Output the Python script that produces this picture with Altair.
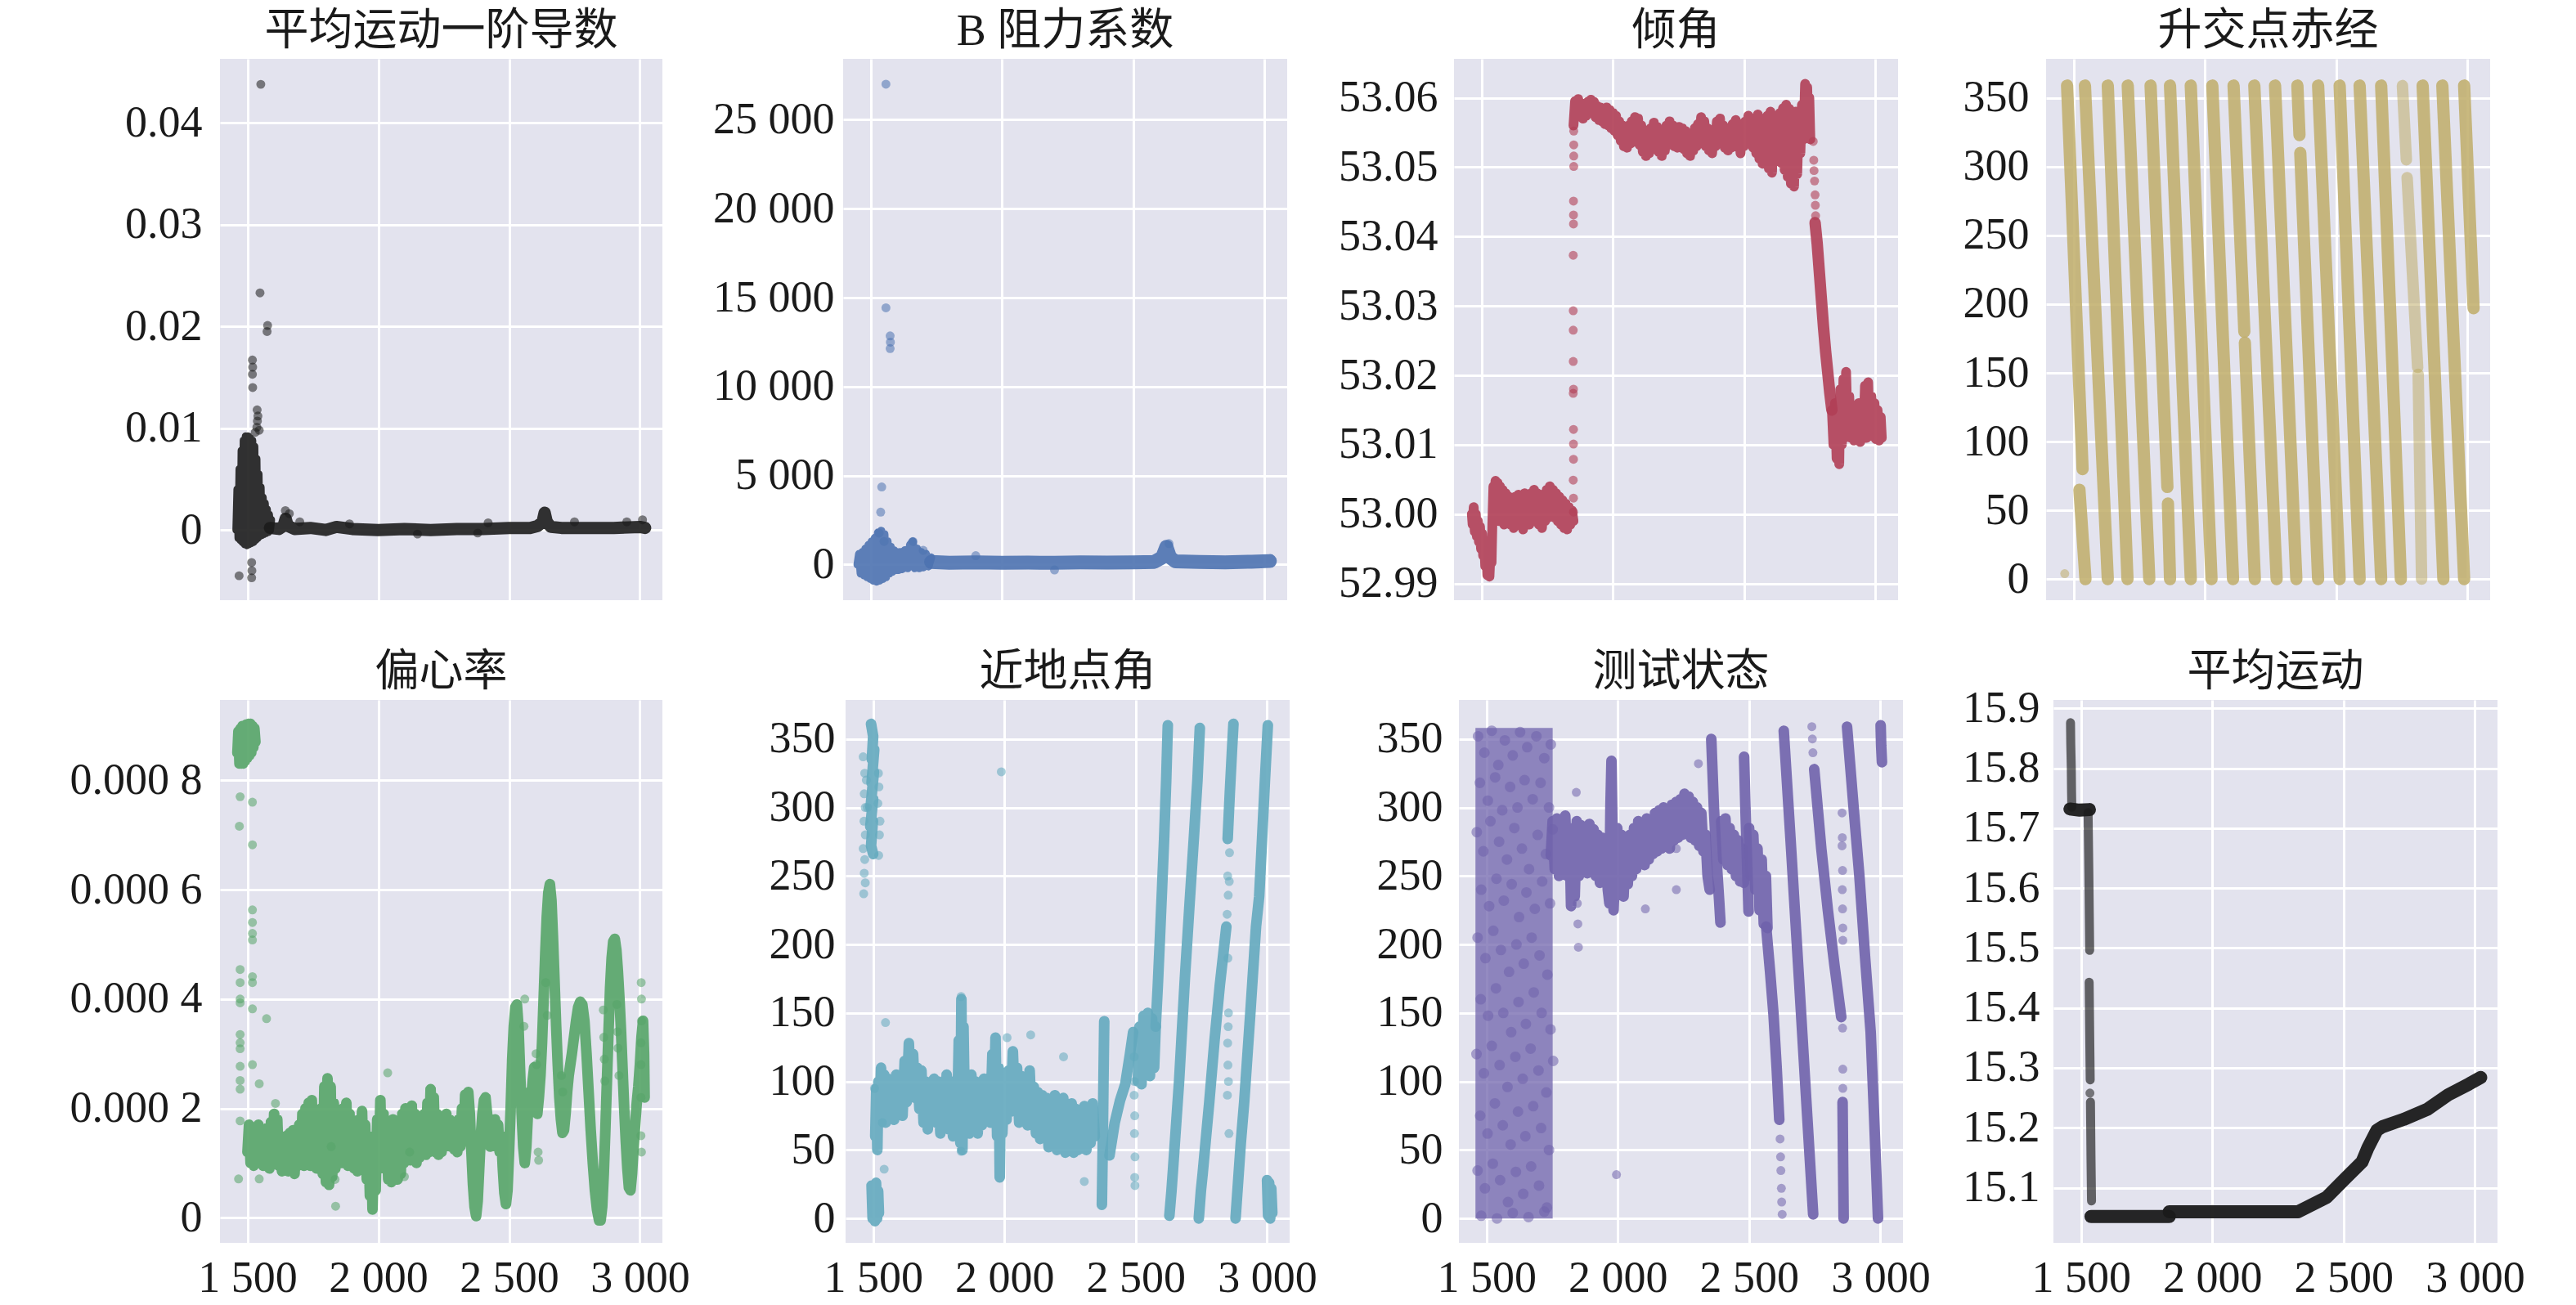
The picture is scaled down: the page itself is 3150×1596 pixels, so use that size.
import altair as alt
import pandas as pd

SERIF = "Liberation Serif"
TITLE_FONT = "Liberation Serif, Noto Sans CJK SC"
BG = "#E3E3EE"
TXT = "#1a1a1a"

X_DOMAIN = [1395, 3086]
X_TICKS = [1500, 2000, 2500, 3000]

TITLES = ["平均运动一阶导数", "B 阻力系数", "倾角", "升交点赤经",
          "偏心率", "近地点角", "测试状态", "平均运动"]
COLORS = ["#1c1c1c", "#4C72B0", "#B03E55", "#BFAD69",
          "#55A467", "#63A9BE", "#6F62AB", "#1a1a1a"]
Y_DOMAINS = [[-0.0069, 0.0463], [-2000, 28420], [52.9876, 53.0656], [-15.3, 378.4],
             [-0.000046, 0.000947], [-17.8, 378.5], [-17.8, 378.5], [15.008, 15.914]]
Y_TICKS = [[0, 0.01, 0.02, 0.03, 0.04],
           [0, 5000, 10000, 15000, 20000, 25000],
           [52.99, 53.0, 53.01, 53.02, 53.03, 53.04, 53.05, 53.06],
           [0, 50, 100, 150, 200, 250, 300, 350],
           [0, 0.0002, 0.0004, 0.0006, 0.0008],
           [0, 50, 100, 150, 200, 250, 300, 350],
           [0, 50, 100, 150, 200, 250, 300, 350],
           [15.1, 15.2, 15.3, 15.4, 15.5, 15.6, 15.7, 15.8, 15.9]]
Y_LABEL_EXPR = [
    "datum.value == 0 ? '0' : format(datum.value, '.2f')",
    "replace(format(datum.value, ','), ',', ' ')",
    "format(datum.value, '.2f')",
    "format(datum.value, 'd')",
    "datum.value == 0 ? '0' : '0.000 ' + format(datum.value * 10000, '.0f')",
    "format(datum.value, 'd')",
    "format(datum.value, 'd')",
    "format(datum.value, '.1f')",
]
X_LABEL_EXPR = "replace(format(datum.value, ','), ',', ' ')"

# ---------------- data: 平均运动一阶导数 ----------------
P1_SPIKE = [(1458, 0.0), (1462, 0.004), (1466, -0.0008), (1470, 0.006), (1474, -0.001),
            (1478, 0.0078), (1482, -0.0012), (1486, 0.0088), (1490, -0.0014), (1494, 0.0092),
            (1498, -0.0015), (1502, 0.0092), (1506, -0.0014), (1510, 0.009), (1514, -0.0013),
            (1518, 0.0088), (1522, -0.0012), (1526, 0.0082), (1530, -0.001), (1534, 0.007),
            (1538, -0.0008), (1542, 0.0055), (1546, -0.0006), (1550, 0.0042), (1554, -0.0005),
            (1558, 0.0032), (1562, -0.0004), (1566, 0.0026), (1570, -0.0003), (1574, 0.002),
            (1578, -0.0002), (1582, 0.0015), (1586, 0.0), (1590, 0.001)]
P1_BAND = [(1586, 0.0002), (1620, 0.0001), (1638, 0.0004), (1646, 0.0011), (1654, 0.0004),
           (1680, 0.0001), (1740, 0.0002), (1800, 0.0), (1840, 0.0003), (1900, 0.0001),
           (2000, 0.0), (2100, 0.0001), (2200, 0.0), (2300, 0.0001), (2400, 0.0001),
           (2500, 0.0002), (2580, 0.0002), (2610, 0.0004), (2628, 0.0008), (2636, 0.0017),
           (2644, 0.0008), (2660, 0.0003), (2700, 0.0002), (2800, 0.0002), (2900, 0.0002),
           (3000, 0.0003), (3020, 0.0002)]
P1_POINTS = [(1551, 0.0438), (1548, 0.0233), (1577, 0.0201), (1575, 0.0195), (1519, 0.0167),
             (1520, 0.0160), (1519, 0.0153), (1537, 0.0118), (1540, 0.0112), (1538, 0.0107),
             (1536, 0.0101), (1468, -0.0045), (1516, -0.0032), (1517, -0.0040), (1516, -0.0047),
             (1520, 0.0140), (1530, 0.0096), (1545, 0.0098), (1700, 0.0008), (1890, 0.0006),
             (2150, -0.0004), (2420, 0.0007), (2750, 0.0008), (2950, 0.0008), (3010, 0.0010),
             (2380, -0.0003), (1660, 0.0016), (1645, 0.0019)]

# ---------------- data: B 阻力系数 ----------------
P2_SPIKE = [(1450, 0), (1456, 600), (1462, -500), (1468, 700), (1474, -600), (1480, 900),
            (1486, -700), (1492, 1100), (1498, -800), (1504, 1300), (1510, -900), (1516, 1500),
            (1522, -950), (1528, 1800), (1534, -900), (1540, 1900), (1546, -800), (1552, 1700),
            (1558, -700), (1564, 1300), (1570, -500), (1576, 1000), (1582, -400), (1588, 800),
            (1594, -300), (1600, 700), (1606, -300), (1612, 700), (1620, -250), (1630, 800),
            (1640, -200), (1650, 1100), (1660, 1300), (1668, -200), (1676, 900), (1684, -200),
            (1692, 700), (1700, -150), (1710, 600), (1720, -100), (1730, 400)]
P2_BAND = [(1730, 150), (1800, 100), (1900, 120), (2000, 100), (2100, 110), (2200, 100),
           (2300, 120), (2400, 110), (2500, 130), (2580, 150), (2610, 400), (2626, 1000),
           (2640, 400), (2660, 180), (2750, 150), (2850, 130), (2950, 160), (3020, 200)]
P2_POINTS = [(1558, 27000), (1558, 14430), (1574, 12850), (1575, 12500), (1574, 12140),
             (1542, 4360), (1538, 2950), (1532, 1770), (1551, 1300), (1661, 1300),
             (1700, 800), (1900, 500), (2200, -300), (2636, 1180)]

# ---------------- data: 倾角 ----------------
P3_LOW = [(1463, 53.0000), (1466, 52.9985), (1470, 53.0010), (1474, 52.9975), (1478, 53.0000),
          (1482, 52.9968), (1486, 52.9990), (1490, 52.9960), (1494, 52.9982), (1498, 52.9950),
          (1502, 52.9972), (1506, 52.9940), (1510, 52.9962), (1514, 52.9925), (1518, 52.9950),
          (1522, 52.9912), (1526, 52.9940), (1530, 52.9910), (1534, 52.9945), (1538, 52.9930),
          (1541, 52.9985), (1545, 53.0040), (1549, 52.9990), (1553, 53.0048), (1557, 52.9995),
          (1561, 53.0045), (1565, 52.9990), (1570, 53.0040), (1575, 52.9995), (1580, 53.0035),
          (1586, 52.9985), (1592, 53.0030), (1598, 52.9990), (1604, 53.0025), (1610, 52.9985),
          (1616, 53.0020), (1622, 52.9980), (1628, 53.0025), (1634, 52.9990), (1640, 53.0028),
          (1646, 52.9985), (1652, 53.0022), (1658, 52.9978), (1664, 53.0030), (1670, 52.9990),
          (1676, 53.0025), (1682, 52.9985), (1688, 53.0030), (1694, 52.9990), (1700, 53.0035),
          (1706, 52.9995), (1712, 53.0030), (1718, 52.9985), (1724, 53.0028), (1730, 52.9980),
          (1736, 53.0025), (1742, 52.9990), (1748, 53.0035), (1754, 52.9995), (1760, 53.0040),
          (1766, 53.0000), (1772, 53.0035), (1778, 52.9995), (1784, 53.0030), (1790, 52.9990),
          (1796, 53.0025), (1802, 52.9985), (1808, 53.0020), (1814, 52.9980), (1820, 53.0015),
          (1826, 52.9978), (1832, 53.0010), (1838, 52.9985), (1844, 53.0005), (1850, 52.9990)]
P3_JUMP = [(1850, 53.0003), (1850, 53.0023), (1849, 53.0049), (1850, 53.0079), (1850, 53.0101),
           (1850, 53.0122), (1849, 53.0174), (1850, 53.0180), (1849, 53.0220), (1849, 53.0265),
           (1849, 53.0293), (1849, 53.0373), (1850, 53.0418), (1850, 53.0431), (1850, 53.0451),
           (1851, 53.0501), (1851, 53.0516), (1851, 53.0532), (1851, 53.0552),
           (2763, 53.0537), (2765, 53.0510), (2766, 53.0495), (2768, 53.0480), (2770, 53.0460),
           (2771, 53.0445), (2772, 53.0430)]
P3_HIGH = [(1850, 53.0560), (1856, 53.0595), (1862, 53.0575), (1868, 53.0598), (1874, 53.0578),
           (1880, 53.0592), (1886, 53.0570), (1892, 53.0590), (1898, 53.0574), (1904, 53.0594),
           (1910, 53.0578), (1916, 53.0597), (1922, 53.0580), (1928, 53.0594), (1934, 53.0572),
           (1940, 53.0588), (1946, 53.0568), (1952, 53.0586), (1958, 53.0566), (1964, 53.0584),
           (1970, 53.0562), (1976, 53.0586), (1982, 53.0560), (1988, 53.0582), (1994, 53.0556),
           (2000, 53.0578), (2006, 53.0552), (2012, 53.0574), (2018, 53.0546), (2024, 53.0566),
           (2030, 53.0538), (2036, 53.0560), (2042, 53.0530), (2048, 53.0556), (2054, 53.0528),
           (2060, 53.0560), (2066, 53.0534), (2072, 53.0566), (2078, 53.0538), (2084, 53.0572),
           (2090, 53.0536), (2096, 53.0570), (2102, 53.0532), (2108, 53.0560), (2114, 53.0522),
           (2120, 53.0552), (2126, 53.0516), (2132, 53.0546), (2138, 53.0520), (2144, 53.0556),
           (2150, 53.0528), (2156, 53.0564), (2162, 53.0530), (2168, 53.0558), (2174, 53.0522),
           (2180, 53.0550), (2186, 53.0516), (2192, 53.0548), (2198, 53.0524), (2204, 53.0560),
           (2210, 53.0532), (2216, 53.0566), (2222, 53.0534), (2228, 53.0560), (2234, 53.0530),
           (2240, 53.0556), (2246, 53.0528), (2252, 53.0558), (2258, 53.0530), (2264, 53.0556),
           (2270, 53.0526), (2276, 53.0552), (2282, 53.0520), (2288, 53.0548), (2294, 53.0516),
           (2300, 53.0546), (2306, 53.0524), (2312, 53.0556), (2318, 53.0530), (2324, 53.0562),
           (2330, 53.0534), (2336, 53.0572), (2342, 53.0536), (2348, 53.0566), (2354, 53.0530),
           (2360, 53.0556), (2366, 53.0524), (2372, 53.0548), (2378, 53.0520), (2384, 53.0554),
           (2390, 53.0530), (2396, 53.0566), (2402, 53.0536), (2408, 53.0570), (2414, 53.0534),
           (2420, 53.0560), (2426, 53.0528), (2432, 53.0552), (2438, 53.0524), (2444, 53.0556),
           (2450, 53.0528), (2456, 53.0562), (2462, 53.0530), (2468, 53.0568), (2474, 53.0532),
           (2480, 53.0560), (2486, 53.0520), (2492, 53.0556), (2498, 53.0530), (2504, 53.0566),
           (2510, 53.0534), (2516, 53.0574), (2522, 53.0536), (2528, 53.0566), (2534, 53.0528),
           (2540, 53.0570), (2546, 53.0520), (2552, 53.0576), (2558, 53.0512), (2564, 53.0566),
           (2570, 53.0505), (2576, 53.0560), (2582, 53.0520), (2588, 53.0574), (2594, 53.0498),
           (2600, 53.0580), (2606, 53.0492), (2612, 53.0570), (2618, 53.0510), (2624, 53.0566),
           (2630, 53.0516), (2636, 53.0578), (2642, 53.0506), (2648, 53.0585), (2654, 53.0496),
           (2660, 53.0590), (2666, 53.0486), (2672, 53.0584), (2678, 53.0476), (2684, 53.0574),
           (2690, 53.0472), (2696, 53.0580), (2702, 53.0490), (2708, 53.0574), (2714, 53.0520),
           (2720, 53.0590), (2726, 53.0540), (2732, 53.0620), (2736, 53.0560), (2740, 53.0615),
           (2744, 53.0560), (2748, 53.0600), (2752, 53.0540)]
P3_DROP = [(2770, 53.0420), (2778, 53.0390), (2786, 53.0350), (2794, 53.0310), (2802, 53.0270),
           (2810, 53.0235), (2818, 53.0205), (2826, 53.0175), (2834, 53.0150)]
P3_END = [(2834, 53.0150), (2840, 53.0100), (2846, 53.0160), (2852, 53.0080), (2858, 53.0150),
          (2862, 53.0072), (2866, 53.0180), (2872, 53.0100), (2878, 53.0195), (2884, 53.0110),
          (2888, 53.0205), (2894, 53.0120), (2900, 53.0170), (2906, 53.0110), (2912, 53.0150),
          (2918, 53.0106), (2924, 53.0140), (2930, 53.0110), (2936, 53.0160), (2942, 53.0104),
          (2948, 53.0150), (2954, 53.0112), (2960, 53.0185), (2966, 53.0110), (2972, 53.0190),
          (2978, 53.0115), (2984, 53.0170), (2990, 53.0112), (2996, 53.0160), (3002, 53.0108),
          (3008, 53.0150), (3014, 53.0106), (3020, 53.0140), (3024, 53.0110)]

# ---------------- data: 升交点赤经 ----------------
# each stripe: (x at top, y at top, x at bottom, y at bottom)
P4_STRIPES = [(1475, 359, 1534, 80), (1522, 65, 1545, 0), (1543, 359, 1630, 0),
              (1630, 359, 1705, 0), (1706, 359, 1788, 0), (1793, 359, 1857, 67),
              (1859, 55, 1867, 0), (1867, 359, 1946, 0), (1946, 359, 2025, 0),
              (2028, 359, 2107, 0), (2109, 359, 2150, 180), (2152, 172, 2190, 0),
              (2188, 359, 2273, 0), (2267, 359, 2348, 0), (2352, 359, 2360, 323),
              (2363, 310, 2431, 0), (2431, 359, 2513, 0), (2513, 359, 2589, 0),
              (2589, 359, 2671, 0), (2671, 359, 2746, 0), (2829, 359, 2908, 0),
              (2904, 359, 2987, 0), (2987, 359, 3023, 197)]
P4_FAINT = [(2752, 359, 2767, 305), (2770, 292, 2810, 154), (2812, 149, 2825, 0)]
P4_POINTS = [(1466, 4)]

# ---------------- data: 偏心率 (units of 1e-4) ----------------
P5_TOP = [(1460, 8.5), (1464, 8.9), (1468, 8.3), (1472, 8.95), (1476, 8.3), (1480, 9.0),
          (1484, 8.3), (1488, 9.0), (1492, 8.35), (1496, 9.03), (1500, 8.4), (1504, 9.04),
          (1508, 8.45), (1512, 9.04), (1516, 8.5), (1520, 9.0), (1524, 8.6), (1528, 8.95),
          (1532, 8.7)]
P5_MAIN = [(1500, 1.2), (1506, 1.7), (1512, 1.0), (1518, 1.6), (1524, 0.95), (1530, 1.55),
           (1536, 1.05), (1542, 1.7), (1548, 1.0), (1554, 1.6), (1560, 0.95), (1566, 1.5),
           (1572, 1.0), (1578, 1.65), (1584, 0.9), (1590, 1.75), (1596, 1.05), (1602, 1.9),
           (1608, 1.1), (1614, 1.8), (1620, 0.95), (1626, 1.5), (1632, 0.85), (1638, 1.45),
           (1644, 0.9), (1650, 1.5), (1656, 0.85), (1662, 1.55), (1668, 0.9), (1674, 1.6),
           (1680, 0.8), (1686, 1.5), (1692, 0.95), (1698, 1.7), (1704, 1.0), (1710, 1.9),
           (1716, 0.95), (1722, 2.0), (1728, 1.0), (1734, 2.1), (1740, 0.95), (1746, 2.15),
           (1752, 1.1), (1758, 1.8), (1764, 0.9), (1770, 1.6), (1776, 1.0), (1782, 2.0),
           (1788, 0.8), (1794, 2.4), (1800, 0.65), (1806, 2.55), (1812, 0.6), (1818, 2.4),
           (1824, 0.75), (1830, 2.1), (1836, 0.9), (1842, 1.8), (1848, 1.1), (1854, 1.9),
           (1860, 1.0), (1866, 2.0), (1872, 1.05), (1878, 2.1), (1884, 0.95), (1890, 1.9),
           (1896, 1.0), (1902, 1.7), (1908, 0.9), (1914, 1.5), (1920, 0.85), (1926, 1.8),
           (1932, 1.0), (1938, 1.95), (1944, 0.9), (1950, 1.7), (1956, 0.7), (1962, 1.5),
           (1968, 0.4), (1974, 1.2), (1978, 0.15), (1984, 1.4), (1990, 0.5), (1996, 1.8),
           (2002, 0.9), (2008, 2.15), (2014, 1.0), (2020, 1.9), (2026, 0.9), (2032, 1.7),
           (2038, 0.7), (2044, 1.6), (2050, 0.65), (2056, 1.8), (2062, 0.8), (2068, 1.7),
           (2074, 0.7), (2080, 1.6), (2086, 0.8), (2092, 1.9), (2098, 1.0), (2104, 2.0),
           (2110, 1.1), (2116, 1.8), (2122, 1.05), (2128, 2.05), (2134, 1.1), (2140, 1.9),
           (2146, 1.0), (2152, 1.7), (2158, 1.1), (2164, 1.8), (2170, 1.2), (2176, 1.9),
           (2182, 1.15), (2188, 2.1), (2194, 1.2), (2200, 2.35), (2206, 1.25), (2212, 2.2),
           (2218, 1.2), (2224, 1.9), (2230, 1.15), (2236, 1.7), (2242, 1.2), (2248, 1.8),
           (2254, 1.3), (2260, 1.9), (2266, 1.35), (2272, 1.8), (2278, 1.3), (2284, 1.7),
           (2290, 1.25), (2296, 1.6), (2302, 1.2), (2308, 1.8), (2314, 1.3), (2320, 2.0),
           (2326, 1.4), (2332, 2.25), (2338, 1.5), (2344, 2.3), (2350, 1.9), (2356, 1.2),
           (2362, 0.6), (2368, 0.2), (2374, 0.03), (2380, 0.3), (2386, 0.9), (2392, 1.5),
           (2398, 1.9), (2404, 2.15), (2410, 2.2), (2416, 1.9), (2422, 1.5), (2428, 1.3),
           (2434, 1.7), (2440, 1.4), (2446, 1.8), (2452, 1.3), (2458, 1.7), (2464, 1.2),
           (2470, 1.5), (2476, 0.9), (2482, 0.45), (2488, 0.25), (2494, 0.5), (2500, 1.2),
           (2506, 2.0), (2512, 2.9), (2518, 3.5), (2524, 3.85), (2530, 3.9), (2536, 3.5),
           (2542, 2.7), (2548, 1.9), (2554, 1.3), (2560, 1.0), (2566, 1.3), (2572, 1.9),
           (2578, 2.3), (2584, 2.1), (2590, 2.5), (2596, 2.75), (2602, 2.4), (2608, 1.9),
           (2614, 2.2), (2620, 2.6), (2626, 3.2), (2632, 4.0), (2638, 4.8), (2644, 5.5),
           (2650, 5.95), (2656, 6.1), (2662, 5.8), (2668, 5.1), (2674, 4.3), (2680, 3.5),
           (2686, 2.8), (2692, 2.2), (2698, 1.8), (2704, 1.55), (2710, 1.6), (2716, 1.9),
           (2722, 2.3), (2728, 2.6), (2734, 2.8), (2740, 3.0), (2748, 3.3), (2756, 3.6),
           (2764, 3.85), (2772, 3.95), (2780, 3.9), (2788, 3.6), (2796, 3.0), (2804, 2.3),
           (2812, 1.6), (2820, 1.0), (2828, 0.5), (2836, 0.15), (2844, -0.05), (2850, -0.05),
           (2856, 0.2), (2862, 0.8), (2868, 1.6), (2874, 2.5), (2880, 3.4), (2886, 4.2),
           (2892, 4.75), (2898, 5.05), (2904, 5.1), (2910, 4.9), (2916, 4.5), (2922, 4.0),
           (2928, 3.4), (2934, 2.7), (2940, 2.0), (2946, 1.4), (2952, 0.9), (2958, 0.55),
           (2964, 0.5), (2970, 0.8), (2976, 1.3), (2982, 1.7), (2988, 2.1), (2994, 2.4),
           (3000, 2.8), (3006, 3.3), (3012, 3.6), (3016, 3.0), (3018, 2.2)]
P5_POINTS = [(1472, 7.7), (1519, 7.6), (1469, 7.16), (1519, 6.82), (1519, 5.63), (1519, 5.4),
             (1519, 5.2), (1519, 5.08), (1472, 4.54), (1472, 4.3), (1472, 4.0), (1472, 3.93),
             (1519, 4.41), (1519, 4.3), (1519, 3.82), (1573, 3.64), (1472, 3.35), (1472, 3.2),
             (1472, 3.09), (1472, 2.77), (1519, 2.8), (1472, 2.51), (1472, 2.35), (1545, 2.45),
             (1472, 1.77), (1607, 2.09), (1466, 0.71), (1545, 0.71), (1837, 0.21), (2036, 2.65),
             (1820, 1.3), (1835, 0.7), (2100, 0.75), (2120, 1.2), (2611, 1.2), (2613, 1.05),
             (2605, 2.8), (2603, 3.0), (2860, 3.8), (2862, 3.3), (2864, 2.9), (2866, 2.5),
             (2912, 3.9), (2914, 3.4), (2916, 3.1), (2920, 2.6), (3005, 4.3), (3006, 4.0),
             (3006, 3.6), (3004, 3.2), (3004, 2.8), (3004, 2.2), (3004, 1.5), (3006, 1.2),
             (2560, 4.0), (2557, 3.5), (2640, 4.3), (2646, 3.7), (2700, 2.6), (2705, 2.3)]

# ---------------- data: 近地点角 ----------------
P6_TRAILS = [
    [(1492, 361), (1500, 352), (1495, 335), (1504, 342), (1494, 318), (1503, 326), (1490, 300),
     (1500, 306), (1489, 286), (1499, 290), (1492, 272), (1500, 266)],
    [(1494, 24), (1498, 0), (1503, 22), (1507, -2), (1511, 26), (1515, 0), (1519, 20), (1522, 4)],
    [(1508, 60), (1512, 95), (1516, 50), (1520, 100), (1524, 70), (1530, 110), (1536, 75),
     (1542, 105), (1548, 70), (1556, 102), (1564, 75), (1572, 100), (1580, 72), (1588, 105),
     (1596, 78), (1604, 100), (1612, 75), (1620, 115), (1628, 85), (1636, 128), (1644, 90),
     (1652, 120), (1660, 88), (1668, 110), (1676, 80), (1684, 108), (1692, 70), (1700, 100),
     (1708, 65), (1716, 98), (1724, 75), (1732, 102), (1740, 70), (1748, 100), (1756, 62),
     (1764, 95), (1772, 70), (1780, 105), (1788, 65), (1796, 100), (1804, 60), (1812, 95),
     (1820, 70), (1826, 130), (1832, 55), (1836, 160), (1840, 50), (1844, 140), (1850, 68),
     (1858, 100), (1866, 62), (1874, 105), (1882, 70), (1890, 100), (1898, 62), (1906, 95),
     (1914, 68), (1922, 102), (1930, 72), (1938, 98), (1946, 70), (1954, 120), (1960, 80),
     (1966, 132), (1972, 60), (1978, 110), (1982, 30), (1986, 90), (1992, 62), (2000, 100),
     (2008, 72), (2016, 108), (2024, 78), (2032, 122), (2040, 82), (2048, 110), (2056, 70),
     (2064, 104), (2072, 78), (2080, 100), (2088, 68), (2096, 108), (2104, 72), (2112, 96),
     (2120, 62), (2128, 92), (2136, 58), (2144, 90), (2152, 62), (2160, 88), (2168, 52),
     (2176, 86), (2184, 58), (2192, 90), (2200, 50), (2208, 80), (2216, 55), (2224, 88),
     (2232, 48), (2240, 82), (2248, 52), (2256, 84), (2264, 48), (2272, 80), (2280, 50),
     (2288, 78), (2296, 52), (2304, 82), (2312, 50), (2320, 80), (2328, 55), (2336, 84),
     (2344, 60)],
    [(2371, 10), (2374, 50), (2377, 100), (2380, 144)],
    [(2400, 46), (2420, 70), (2440, 86), (2460, 98), (2478, 120), (2490, 136)],
    [(2508, 100), (2514, 140), (2522, 98), (2530, 148), (2538, 106), (2546, 150), (2554, 104),
     (2562, 146), (2570, 110), (2576, 140)],
    [(2576, 140), (2584, 170), (2591, 200), (2600, 240), (2608, 277), (2616, 320), (2622, 360)],
    [(2628, 2), (2636, 20), (2642, 36), (2665, 100), (2687, 175), (2705, 230), (2721, 277),
     (2735, 320), (2744, 358)],
    [(2740, 0), (2748, 20), (2755, 33), (2780, 85), (2800, 130), (2820, 170), (2845, 213)],
    [(2850, 277), (2858, 310), (2866, 340), (2872, 361)],
    [(2880, 0), (2900, 55), (2913, 85), (2936, 149), (2958, 213), (2970, 235), (2981, 277),
     (2992, 320), (3003, 360)],
    [(3000, 28), (3004, 2), (3008, 26), (3012, 0), (3016, 22), (3020, 4)],
]
P6_POINTS = [(1462, 337), (1468, 325), (1466, 310), (1470, 300), (1465, 290), (1470, 280),
             (1462, 270), (1468, 262), (1466, 252), (1464, 237), (1470, 245), (1474, 320),
             (1478, 300), (1520, 325), (1522, 315), (1526, 290), (1524, 280), (1521, 265),
             (1518, 303), (1988, 326), (1835, 162), (1547, 143), (2100, 134), (2225, 118),
             (1835, 49), (1542, 36), (2304, 27), (1505, 95), (1535, 70), (2010, 132),
             (2494, 118), (2495, 100), (2494, 90), (2496, 75), (2495, 62), (2497, 45),
             (2496, 30), (2497, 24), (2850, 250), (2852, 236), (2848, 222), (2851, 190),
             (2853, 150), (2852, 140), (2850, 128), (2851, 112), (2853, 100), (2849, 90),
             (2855, 62), (2857, 267), (2856, 246)]

# ---------------- data: 测试状态 ----------------
P7_BLOCK = [(1458, 0), (1752, 358)]
P7_BLOCK_POINTS = [
    (1468, 352), (1492, 340), (1520, 356), (1545, 331), (1570, 349), (1600, 338), (1628, 355),
    (1655, 344), (1690, 352), (1720, 336), (1745, 346), (1475, 318), (1505, 305), (1533, 322),
    (1560, 298), (1590, 315), (1618, 300), (1645, 320), (1676, 306), (1706, 318), (1738, 300),
    (1463, 282), (1488, 268), (1515, 290), (1548, 275), (1578, 262), (1606, 285), (1635, 270),
    (1662, 255), (1695, 280), (1726, 266), (1752, 284), (1480, 240), (1510, 228), (1538, 248),
    (1566, 232), (1596, 244), (1624, 220), (1652, 238), (1684, 226), (1712, 246), (1742, 230),
    (1466, 205), (1496, 190), (1526, 210), (1555, 196), (1586, 180), (1614, 200), (1642, 186),
    (1672, 205), (1702, 192), (1732, 178), (1478, 160), (1506, 148), (1536, 168), (1564, 150),
    (1594, 136), (1622, 158), (1650, 142), (1680, 165), (1710, 150), (1744, 138), (1462, 120),
    (1490, 106), (1520, 126), (1550, 112), (1580, 96), (1610, 118), (1638, 102), (1668, 124),
    (1698, 108), (1728, 92), (1754, 115), (1476, 75), (1504, 62), (1532, 84), (1562, 68),
    (1592, 54), (1620, 78), (1648, 60), (1678, 82), (1708, 66), (1738, 50), (1466, 35),
    (1494, 22), (1524, 40), (1552, 28), (1582, 12), (1612, 34), (1640, 18), (1670, 38),
    (1700, 24), (1730, 8), (1480, 2), (1540, 0), (1600, 4), (1660, 1), (1720, 5)]
P7_TRAILS = [
    [(1745, 265), (1752, 290), (1760, 255), (1768, 292), (1776, 250), (1784, 288), (1792, 258),
     (1800, 294), (1808, 250), (1816, 285), (1822, 228), (1828, 280), (1836, 235), (1844, 290),
     (1852, 250), (1860, 287), (1868, 255), (1876, 282), (1884, 252), (1892, 288), (1900, 258),
     (1908, 284), (1916, 250), (1924, 280), (1932, 245), (1940, 278), (1948, 252), (1956, 276),
     (1962, 240), (1968, 230), (1972, 300), (1976, 334), (1980, 280), (1984, 225), (1990, 260),
     (1998, 285), (2006, 240), (2014, 280), (2022, 235), (2030, 274), (2038, 244), (2046, 280),
     (2054, 250), (2062, 285), (2070, 255), (2078, 290), (2086, 262), (2094, 285), (2102, 258),
     (2110, 292), (2118, 262), (2126, 290), (2134, 266), (2142, 296), (2150, 268), (2158, 298),
     (2166, 270), (2174, 300), (2182, 272), (2190, 298), (2198, 270), (2206, 302), (2214, 276),
     (2222, 304), (2230, 278), (2238, 306), (2246, 280), (2254, 310), (2262, 282), (2270, 308),
     (2278, 278), (2286, 304), (2294, 276), (2302, 300), (2310, 272), (2318, 296), (2326, 268),
     (2334, 280), (2342, 250), (2350, 240)],
    [(2356, 350), (2366, 300), (2376, 262), (2386, 232), (2391, 216)],
    [(2394, 290), (2402, 262), (2410, 292), (2418, 258), (2426, 285), (2434, 255), (2442, 280),
     (2450, 250), (2458, 276), (2466, 246), (2474, 270), (2480, 245)],
    [(2481, 337), (2486, 300), (2492, 262), (2498, 224)],
    [(2500, 285), (2508, 250), (2516, 280), (2524, 240), (2532, 270), (2540, 225), (2548, 262),
     (2556, 215), (2564, 250), (2570, 212)],
    [(2565, 213), (2580, 180), (2593, 149), (2605, 110), (2615, 72)],
    [(2632, 356), (2660, 270), (2690, 175), (2715, 95), (2744, 3)],
    [(2748, 328), (2775, 270), (2800, 225), (2825, 185), (2851, 147)],
    [(2856, 85), (2858, 40), (2860, 0)],
    [(2873, 359), (2898, 300), (2920, 250), (2942, 190), (2963, 136), (2975, 80), (2991, 0)],
    [(3001, 360), (3003, 345), (3006, 333)],
]
P7_POINTS = [(1842, 311), (2307, 332), (2223, 270), (2223, 240), (2105, 226), (1850, 198),
             (1995, 32), (1848, 215), (1846, 230), (2618, 58), (2620, 45), (2621, 35),
             (2623, 22), (2624, 12), (2626, 3), (2739, 359), (2741, 350), (2743, 340),
             (2854, 296), (2855, 278), (2854, 272), (2856, 254), (2855, 240), (2856, 226),
             (2857, 212), (2857, 203), (2856, 139), (2857, 109), (2857, 95)]

# ---------------- data: 平均运动 ----------------
P8_COLUMNS = [
    [(1460, 15.876), (1461, 15.84), (1463, 15.80), (1464, 15.76), (1465, 15.735)],
    [(1527, 15.726), (1530, 15.62), (1533, 15.496)],
    [(1531, 15.443), (1533, 15.36), (1535, 15.28)],
    [(1536, 15.243), (1538, 15.15), (1540, 15.078)],
]
P8_LINES = [
    [(1458, 15.732), (1495, 15.730), (1532, 15.731)],
    [(1538, 15.052), (1836, 15.052)],
    [(1836, 15.060), (2327, 15.060), (2435, 15.084), (2503, 15.114), (2570, 15.143),
     (2593, 15.167), (2627, 15.196), (2649, 15.202), (2728, 15.214), (2819, 15.231),
     (2898, 15.255), (2977, 15.273), (3022, 15.284)],
]
P8_POINTS = [(1534, 15.258)]

# ---------------- layout ----------------
PLOT_W = [541, 543, 543, 543]
PLOT_H = [662, 664]
Y_EXTENT = [[261, 221, 204, 181], [261, 190, 173, 150]]
LABEL_PAD = [22, 11, 20, 21, 22, 13, 20, 17]
TITLE_OFFSET = [6, 6, 6, 6, 6, 6, 6, -11]


def pts_df(pts, scale=1.0):
    return pd.DataFrame({"x": [p[0] for p in pts], "y": [p[1] * scale for p in pts]})


def trails_df(trails, scale=1.0):
    rows = []
    for k, t in enumerate(trails):
        for j, (x, y) in enumerate(t):
            rows.append({"x": x, "y": y * scale, "seg": k, "o": j})
    return pd.DataFrame(rows)


def seg_df(segs):
    return pd.DataFrame({"x": [s[0] for s in segs], "y": [s[1] for s in segs],
                         "x2": [s[2] for s in segs], "y2": [s[3] for s in segs]})


def x_enc(row):
    if row == 0:
        ax = alt.Axis(values=X_TICKS, title=None, labels=False, ticks=False, domain=False,
                      gridColor="white", gridWidth=3, minExtent=0, maxExtent=0)
    else:
        ax = alt.Axis(values=X_TICKS, title=None, ticks=False, domain=False,
                      gridColor="white", gridWidth=3, labelExpr=X_LABEL_EXPR,
                      labelFont=SERIF, labelFontSize=54, labelColor=TXT, labelPadding=16,
                      labelOverlap=False, labelFlush=False)
    return alt.X("x:Q", scale=alt.Scale(domain=X_DOMAIN, nice=False, zero=False), axis=ax)


def y_enc(i):
    row = i // 4
    ext = Y_EXTENT[row][i % 4]
    ax = alt.Axis(values=Y_TICKS[i], title=None, ticks=False, domain=False,
                  gridColor="white", gridWidth=3, labelExpr=Y_LABEL_EXPR[i],
                  labelFont=SERIF, labelFontSize=54, labelColor=TXT,
                  labelPadding=LABEL_PAD[i], labelOverlap=False, labelFlush=False,
                  minExtent=ext, maxExtent=ext)
    return alt.Y("y:Q", scale=alt.Scale(domain=Y_DOMAINS[i], nice=False, zero=False), axis=ax)


def trail_layer(i, trails, width, opacity=0.9, scale=1.0):
    return alt.Chart(trails_df(trails, scale)).mark_line(
        color=COLORS[i], strokeWidth=width, opacity=opacity,
        strokeCap="round", strokeJoin="round", clip=True
    ).encode(x=x_enc(i // 4), y=y_enc(i), detail="seg:N", order="o:Q")


def point_layer(i, pts, opacity=0.55, size=120, scale=1.0):
    return alt.Chart(pts_df(pts, scale)).mark_circle(
        color=COLORS[i], opacity=opacity, size=size, clip=True
    ).encode(x=x_enc(i // 4), y=y_enc(i))


def panel(i, layers):
    row = i // 4
    return alt.layer(*layers).properties(
        width=PLOT_W[i % 4], height=PLOT_H[row],
        title=alt.TitleParams(TITLES[i], font=TITLE_FONT, fontSize=54, fontWeight="normal",
                              color=TXT, anchor="middle", offset=TITLE_OFFSET[i])
    )


# panel 1
p1 = panel(0, [trail_layer(0, [P1_SPIKE], 10), trail_layer(0, [P1_BAND], 15),
               point_layer(0, P1_POINTS)])
# panel 2
p2 = panel(1, [trail_layer(1, [P2_SPIKE], 10), trail_layer(1, [P2_BAND], 17),
               point_layer(1, P2_POINTS)])
# panel 3
p3 = panel(2, [trail_layer(2, [P3_LOW, P3_HIGH, P3_END], 12),
               trail_layer(2, [P3_DROP], 14), point_layer(2, P3_JUMP, opacity=0.6)])
# panel 4
p4_rules = alt.Chart(seg_df(P4_STRIPES)).mark_rule(
    color=COLORS[3], strokeWidth=15, opacity=0.85, strokeCap="round", clip=True
).encode(x=x_enc(0), y=y_enc(3), x2="x2:Q", y2="y2:Q")
p4_faint = alt.Chart(seg_df(P4_FAINT)).mark_rule(
    color=COLORS[3], strokeWidth=14, opacity=0.55, strokeCap="round", clip=True
).encode(x=x_enc(0), y=y_enc(3), x2="x2:Q", y2="y2:Q")
p4 = panel(3, [p4_rules, p4_faint, point_layer(3, P4_POINTS)])
# panel 5
p5 = panel(4, [trail_layer(4, [P5_TOP], 12, scale=1e-4),
               trail_layer(4, [P5_MAIN], 13, scale=1e-4),
               point_layer(4, P5_POINTS, scale=1e-4)])
# panel 6
p6 = panel(5, [trail_layer(5, P6_TRAILS, 13), point_layer(5, P6_POINTS)])
# panel 7
block = pd.DataFrame({"x": [P7_BLOCK[0][0]], "y": [P7_BLOCK[0][1]],
                      "x2": [P7_BLOCK[1][0]], "y2": [P7_BLOCK[1][1]]})
p7_rect = alt.Chart(block).mark_rect(color=COLORS[6], opacity=0.74).encode(
    x=x_enc(1), y=y_enc(6), x2="x2:Q", y2="y2:Q")
p7 = panel(6, [p7_rect, point_layer(6, P7_BLOCK_POINTS, opacity=0.55, size=170),
               trail_layer(6, P7_TRAILS, 13), point_layer(6, P7_POINTS)])
# panel 8
p8 = panel(7, [trail_layer(7, P8_COLUMNS, 11, opacity=0.65),
               trail_layer(7, P8_LINES, 16, opacity=0.95),
               point_layer(7, P8_POINTS)])

row1 = alt.hconcat(p1, p2, p3, p4, spacing=0)
row2 = alt.hconcat(p5, p6, p7, p8, spacing=0)
chart = alt.vconcat(row1, row2, spacing=55).properties(
    padding={"left": 0, "top": 4, "right": 0, "bottom": 0}
).configure(background="white").configure_view(fill=BG, strokeWidth=0)

chart.save("out.html", embed_options={"renderer": "svg", "actions": False})
